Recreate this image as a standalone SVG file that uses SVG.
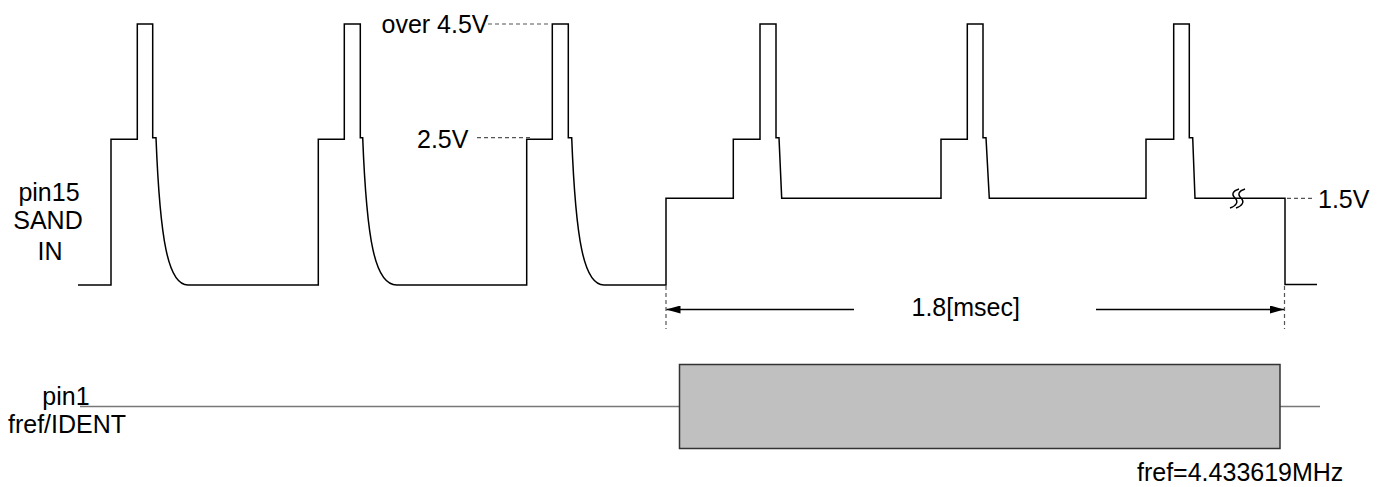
<svg xmlns="http://www.w3.org/2000/svg" width="1388" height="487" viewBox="0 0 1388 487">
<style>
  text { font-family: "Liberation Sans", Arial, sans-serif; font-size: 25px; fill: #000; }
  .wave { fill: none; stroke: #000; stroke-width: 1.5; stroke-linejoin: miter; }
  .lead { fill: none; stroke: #555; stroke-width: 1.2; stroke-dasharray: 4 3; }
  .dim { fill: none; stroke: #000; stroke-width: 1.3; }
  .ref { fill: none; stroke: #777; stroke-width: 1.6; }
</style>
<defs>
  <marker id="arrow" viewBox="0 0 14 8" refX="14" refY="4" markerWidth="14" markerHeight="8" markerUnits="userSpaceOnUse" orient="auto">
    <path d="M0,0 L14,4 L0,8 Z" fill="#000"/>
  </marker>
</defs>
<rect width="1388" height="487" fill="#fff"/>

<g id="sand-in-signal">
  <path class="wave" d="M78,285 H111 V139.3 H137.3 V24 H152.7 V137.7 H156 C160,240 168,285 188,285 H318.3 V139.3 H344.3 V24 H360.3 V137.7 H362.7 C366.7,240 374.7,285 396.7,285 H526.7 V139.3 H552.3 V24 H568.3 V137.7 H571.7 C575.7,240 583.7,285 604,285 H666 V198.3 H733.3 V139.3 H760 V24 H776 V137.7 H779 L781.7,198.3 H941 V139.3 H967.3 V24 H983 V137.7 H986 L989.3,198.3 H1146 V139.3 H1173.7 V24 H1189.3 V137.7 H1192.7 L1195,198.3 H1285 V284.5 H1317"/>
  <path class="wave" stroke-width="1.2" d="M1230,208 C1236,206 1239,202 1235,198 C1231,194 1233,191 1239,189 M1236,208 C1242,206 1245,202 1241,198 C1237,194 1239,191 1245,189"/>
</g>

<g id="fref-signal">
  <path class="ref" d="M80,406.5 H679.5 M1280,406.5 H1320"/>
  <rect x="679.5" y="364.5" width="600.5" height="84" fill="#c0c0c0" stroke="#333" stroke-width="1.5"/>
</g>

<g id="connectors">
  <path class="lead" d="M488,24 H550"/>
  <path class="lead" d="M477,137.7 H531"/>
  <path class="lead" d="M1287,198.3 H1315"/>
  <path class="lead" d="M666,286 V329"/>
  <path class="lead" d="M1284.5,286 V329"/>
  <path class="dim" d="M854,309.5 H666.5" marker-end="url(#arrow)"/>
  <path class="dim" d="M1096,309.5 H1284" marker-end="url(#arrow)"/>
</g>

<g id="labels">
  <text x="49" y="201" text-anchor="middle">pin15</text>
  <text x="48" y="229" text-anchor="middle">SAND</text>
  <text x="50" y="260" text-anchor="middle">IN</text>
  <text x="381.5" y="33">over 4.5V</text>
  <text x="417" y="148">2.5V</text>
  <text x="1318" y="208">1.5V</text>
  <text x="911.5" y="316">1.8[msec]</text>
  <text x="66" y="405" text-anchor="middle">pin1</text>
  <text x="67" y="433" text-anchor="middle">fref/IDENT</text>
  <text x="1137" y="481">fref=4.433619MHz</text>
</g>
</svg>
